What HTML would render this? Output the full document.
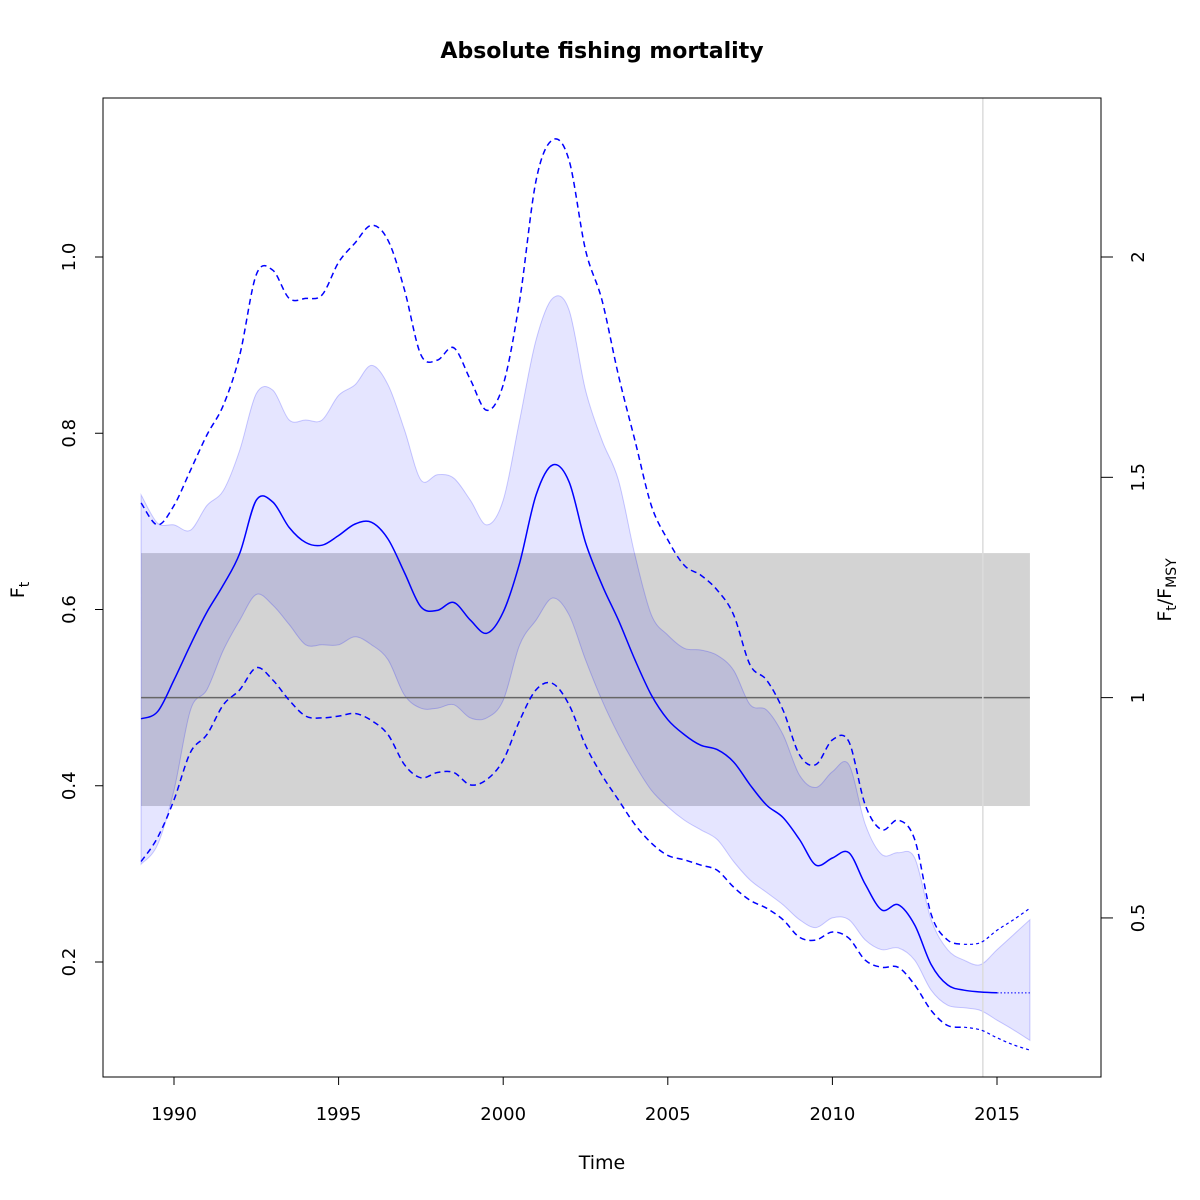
<!DOCTYPE html>
<html><head><meta charset="utf-8"><style>
html,body{margin:0;padding:0;background:#fff;}
svg{display:block;font-family:"DejaVu Sans","Liberation Sans",sans-serif;}
</style></head><body>
<svg id="chart" width="1200" height="1200" viewBox="0 0 1200 1200">
<text x="602" y="58" text-anchor="middle" font-size="22" font-weight="bold">Absolute fishing mortality</text>
<g id="plot"></g>
<rect x="103" y="98" width="998" height="979" fill="none" stroke="#000" stroke-width="1"/>
<g id="axes"></g>
<text x="602" y="1169" text-anchor="middle" font-size="19">Time</text>
<text transform="translate(24,590) rotate(-90)" text-anchor="middle" font-size="19">F<tspan font-size="14" dy="5">t</tspan></text>
<text transform="translate(1171,590) rotate(-90)" text-anchor="middle" font-size="19">F<tspan font-size="14" dy="5">t</tspan><tspan dy="-5">/F</tspan><tspan font-size="14" dy="5">MSY</tspan></text>
</svg>
<script>
const years = [];
for (let i = 0; i <= 54; i++) years.push(1989 + i * 0.5);
const median = [0.476,0.484,0.520,0.560,0.597,0.628,0.664,0.724,0.722,0.693,0.676,0.673,0.684,0.697,0.699,0.680,0.642,0.603,0.599,0.608,0.588,0.573,0.597,0.653,0.730,0.764,0.745,0.676,0.628,0.588,0.543,0.503,0.475,0.458,0.446,0.441,0.427,0.401,0.378,0.364,0.339,0.310,0.318,0.324,0.288,0.259,0.265,0.242,0.197,0.174,0.168,0.166,0.165];
const innerUpper = [0.730,0.698,0.696,0.690,0.718,0.735,0.781,0.845,0.849,0.815,0.815,0.815,0.843,0.855,0.877,0.855,0.804,0.747,0.753,0.749,0.724,0.696,0.724,0.815,0.906,0.953,0.940,0.849,0.792,0.747,0.662,0.594,0.571,0.556,0.554,0.548,0.531,0.492,0.486,0.458,0.412,0.398,0.416,0.424,0.356,0.322,0.324,0.318,0.248,0.214,0.202,0.197,0.214,0.231,0.248];
const innerLower = [0.311,0.333,0.395,0.486,0.509,0.554,0.588,0.617,0.605,0.583,0.560,0.560,0.560,0.569,0.560,0.543,0.503,0.488,0.488,0.492,0.477,0.477,0.497,0.560,0.588,0.613,0.594,0.543,0.497,0.458,0.424,0.395,0.376,0.361,0.350,0.339,0.314,0.293,0.279,0.265,0.248,0.239,0.250,0.248,0.225,0.214,0.216,0.202,0.168,0.151,0.148,0.145,0.134,0.123,0.111];
const outerUpper = [0.721,0.696,0.718,0.758,0.798,0.832,0.889,0.980,0.985,0.953,0.953,0.957,0.994,1.016,1.036,1.019,0.963,0.889,0.883,0.897,0.861,0.826,0.855,0.951,1.087,1.133,1.110,1.008,0.951,0.866,0.792,0.718,0.679,0.650,0.639,0.622,0.594,0.537,0.520,0.486,0.435,0.424,0.452,0.450,0.378,0.350,0.361,0.339,0.254,0.225,0.220,0.222,0.236,0.248,0.261];
const outerLower = [0.314,0.341,0.384,0.438,0.458,0.492,0.509,0.534,0.520,0.497,0.479,0.477,0.479,0.482,0.474,0.458,0.424,0.409,0.415,0.415,0.401,0.407,0.429,0.474,0.509,0.516,0.492,0.446,0.412,0.384,0.356,0.335,0.321,0.316,0.310,0.304,0.285,0.270,0.261,0.248,0.228,0.225,0.234,0.227,0.202,0.194,0.194,0.174,0.145,0.128,0.126,0.123,0.114,0.106,0.100];
const refBand = [0.377, 0.664];
const fmsy = 0.5;
const lastYear = 2014.57;
const xTicks = [1990,1995,2000,2005,2010,2015];
const yTicks = [0.2,0.4,0.6,0.8,1.0];
const yTickLabels = ["0.2","0.4","0.6","0.8","1.0"];
const rTicks = [0.5,1,1.5,2];
const rTickLabels = ["0.5","1","1.5","2"];

const X = y => 174 + (y - 1990) * 32.92;
const Y = v => 257 + (1.0 - v) * 881.25;
const NS = "http://www.w3.org/2000/svg";
const plot = document.getElementById('plot');
const axes = document.getElementById('axes');

function pts(xs, vs){ return vs.map((v,i)=>[X(xs[i]),Y(v)]); }
function spline(p, move){
  let d = (move===false?'L':'M') + p[0][0].toFixed(1)+','+p[0][1].toFixed(1);
  for(let i=0;i<p.length-1;i++){
    const p0=p[i-1]||p[i], p1=p[i], p2=p[i+1], p3=p[i+2]||p2;
    const c1=[p1[0]+(p2[0]-p0[0])/6, p1[1]+(p2[1]-p0[1])/6];
    const c2=[p2[0]-(p3[0]-p1[0])/6, p2[1]-(p3[1]-p1[1])/6];
    d+=' C'+c1[0].toFixed(1)+','+c1[1].toFixed(1)+' '+c2[0].toFixed(1)+','+c2[1].toFixed(1)+' '+p2[0].toFixed(1)+','+p2[1].toFixed(1);
  }
  return d;
}
function mk(tag, attrs, parent){
  const e=document.createElementNS(NS,tag);
  for(const k in attrs) e.setAttribute(k,attrs[k]);
  (parent||plot).appendChild(e); return e;
}

// reference band
let e = mk('rect',{x:X(1989),y:Y(refBand[1]),width:X(2016)-X(1989),height:Y(refBand[0])-Y(refBand[1]),fill:'#d3d3d3'});



// CI band
const up = pts(years, innerUpper), lo = pts(years, innerLower).reverse();
e = mk('path',{d:spline(up)+' '+spline(lo,false)+' Z',fill:'rgba(0,0,255,0.1)',stroke:'rgba(0,0,255,0.2)','stroke-width':1});



// fmsy line
e = mk('line',{x1:X(1989),x2:X(2016),y1:Y(fmsy),y2:Y(fmsy),stroke:'#666','stroke-width':1.5});



// last-year line
e = mk('line',{x1:X(lastYear),x2:X(lastYear),y1:98,y2:1077,stroke:'#dcdcdc','stroke-width':1.5});



// outer dashed lines (split at last obs)
const cut = 52; // index of 2015
[[outerUpper,'outer-ci-upper'],[outerLower,'outer-ci-lower']].forEach(([arr,nm])=>{
  const p = pts(years, arr);
  let a = mk('path',{d:spline(p.slice(0,cut-1)),fill:'none',stroke:'#0000ff','stroke-width':1.5,'stroke-dasharray':'6,4'});
  
  
  let b = mk('path',{d:spline(p.slice(cut-2)),fill:'none',stroke:'#0000ff','stroke-width':1.2,'stroke-dasharray':'3,3'});
  
  
});

// median
const mp = pts(years.slice(0, median.length), median);
e = mk('path',{d:spline(mp),fill:'none',stroke:'#0000ff','stroke-width':1.5});


const lastV = median[median.length-1];
e = mk('line',{x1:X(2015),x2:X(2016),y1:Y(lastV),y2:Y(lastV),stroke:'#0000ff','stroke-width':1,'stroke-dasharray':'1.5,2'});



// axes ticks
xTicks.forEach(t=>{
  let l = mk('line',{x1:X(t),x2:X(t),y1:1077,y2:1085,stroke:'#000'},axes);
  
  
  let tx = mk('text',{x:X(t),y:1120,'text-anchor':'middle','font-size':18},axes);
  tx.textContent = String(t);
  
  
});
yTicks.forEach((t,i)=>{
  let l = mk('line',{x1:95,x2:103,y1:Y(t),y2:Y(t),stroke:'#000'},axes);
  
  
  let tx = mk('text',{transform:'translate(75,'+Y(t)+') rotate(-90)','text-anchor':'middle','font-size':18},axes);
  tx.textContent = yTickLabels[i];
  
  
});
rTicks.forEach((t,i)=>{
  const yy = Y(t*fmsy);
  let l = mk('line',{x1:1101,x2:1113,y1:yy,y2:yy,stroke:'#000'},axes);
  
  
  let tx = mk('text',{transform:'translate(1144,'+yy+') rotate(-90)','text-anchor':'middle','font-size':18},axes);
  tx.textContent = rTickLabels[i];
  
  
});
</script>
</body></html>
